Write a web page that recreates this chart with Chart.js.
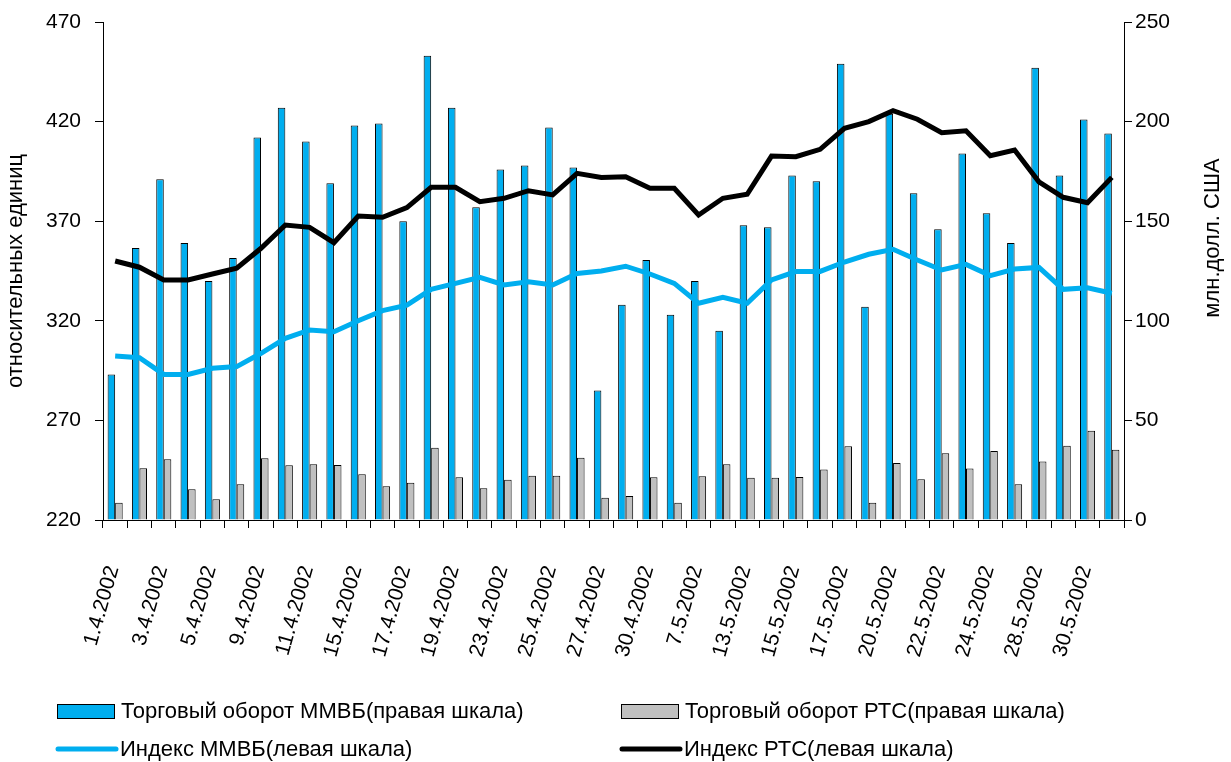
<!DOCTYPE html>
<html>
<head>
<meta charset="utf-8">
<script src="https://cdn.jsdelivr.net/npm/chart.js@4"></script>
<style>
html, body { margin: 0; padding: 0; background: #fff; }
</style>
</head>
<body>
<canvas id="chart" width="1231" height="762"></canvas>
<script>
/* trading days, April - May 2002 */
const dates = [
    "1.4.2002", "2.4.2002", "3.4.2002", "4.4.2002", "5.4.2002", "8.4.2002",
    "9.4.2002", "10.4.2002", "11.4.2002", "12.4.2002", "15.4.2002", "16.4.2002",
    "17.4.2002", "18.4.2002", "19.4.2002", "22.4.2002", "23.4.2002", "24.4.2002",
    "25.4.2002", "26.4.2002", "27.4.2002", "29.4.2002", "30.4.2002", "6.5.2002",
    "7.5.2002", "8.5.2002", "13.5.2002", "14.5.2002", "15.5.2002", "16.5.2002",
    "17.5.2002", "18.5.2002", "20.5.2002", "21.5.2002", "22.5.2002", "23.5.2002",
    "24.5.2002", "27.5.2002", "28.5.2002", "29.5.2002", "30.5.2002", "31.5.2002"
];
// turnover, mln USD (right axis)
const micexTurnover = [
    73, 136.5, 171, 139, 120, 131.5, 192, 207, 190, 169, 198, 199,
    150, 233, 207, 157, 176, 178, 197, 177, 65, 108, 130.5, 103,
    120, 95, 148, 147, 173, 170, 229, 107, 204, 164, 146, 184,
    154, 139, 227, 173, 201, 194
];
const rtsTurnover = [
    8.7, 26, 30.5, 15.4, 10.4, 18, 31, 27.5, 28, 27.6, 23, 17,
    18.7, 36.3, 21.4, 16, 20.2, 22.2, 22.2, 31.3, 11.2, 12, 21.4, 8.7,
    22, 28, 21.2, 21.2, 21.6, 25.4, 37, 8.7, 28.6, 20.4, 33.5, 25.8,
    34.6, 18, 29.4, 37.3, 44.8, 35.3
];
// indices (left axis)
const micexIndex = [
    302.3, 301.5, 293.1, 293.1, 296.2, 297, 303.7, 311.2, 315.4, 314.5, 320, 325.1,
    327.9, 335.8, 338.8, 341.8, 338, 339.6, 338, 343.8, 345, 347.4, 343.5, 338.8,
    328.8, 331.8, 328.8, 340.5, 344.7, 344.8, 349.5, 353.4, 355.9, 350.5, 345.5, 348.3,
    342.7, 346, 346.8, 335.8, 336.6, 333.8
];
const rtsIndex = [
    350, 346.9, 340.5, 340.5, 343.5, 346.4, 356.4, 368.1, 366.9, 359.2, 372.6, 372,
    376.8, 387, 387, 379.8, 381.5, 385.3, 383.2, 394, 391.9, 392.3, 386.5, 386.5,
    373.1, 381.5, 383.5, 402.7, 402.4, 406.1, 416.6, 420, 425.5, 421.2, 414.4, 415.4,
    402.9, 405.7, 389.8, 382, 379.3, 392
];
const leftRange = [220, 470];
const rightRange = [0, 250];
const tickStep = 50;
const leftTitle = "относительных единиц";
const rightTitle = "млн.долл. США";

const FONT = '"Liberation Sans", Arial, Helvetica, sans-serif';
const BLUE = "#00AEEF";
const GREY = "#C0C0C0";
Chart.defaults.font.family = FONT;
Chart.defaults.font.size = 21;
Chart.defaults.color = "#000";

// legend at the bottom + right axis title (reads bottom-to-top like Excel)
const extras = {
    id: "extras",
    afterDraw(chart) {
        const c = chart.ctx;
        const ds = chart.data.datasets;
        c.save();
        c.font = "22px " + FONT;
        c.fillStyle = "#000";
        c.textBaseline = "middle";
        c.textAlign = "left";
        const items = [
            { d: ds[2], x: 57, y: 711 },
            { d: ds[3], x: 621, y: 711 },
            { d: ds[1], x: 56, y: 749 },
            { d: ds[0], x: 620, y: 749 }
        ];
        items.forEach(it => {
            if (it.d.type === "line") {
                c.strokeStyle = it.d.borderColor;
                c.lineWidth = 5;
                c.lineCap = "round";
                c.beginPath();
                c.moveTo(it.x + 2, it.y);
                c.lineTo(it.x + 60, it.y);
                c.stroke();
            } else {
                c.fillStyle = it.d.backgroundColor;
                c.fillRect(it.x, it.y - 7, 58, 15);
                c.strokeStyle = "#000";
                c.lineWidth = 1;
                c.strokeRect(it.x + 0.5, it.y - 6.5, 57, 14);
            }
            c.fillStyle = "#000";
            c.fillText(it.d.label, it.x + 64, it.y + 1);
        });
        c.translate(1213, 238);
        c.rotate(-Math.PI / 2);
        c.textAlign = "center";
        c.fillText(rightTitle, 0, 0);
        c.restore();
    }
};

// fixed plot box: 103..1124 x 22..520
function fitY(width) {
    return s => {
        s.width = width;
        s.paddingTop = 10;
        s.paddingBottom = 10;
    };
}

var ctx = document.getElementById("chart").getContext("2d");
var chart = new Chart(ctx, {
    type: "bar",
    data: {
        labels: dates,
        datasets: [
            {
                type: "line",
                label: "Индекс РТС(левая шкала)",
                data: rtsIndex,
                yAxisID: "yL",
                borderColor: "#000",
                borderWidth: 5,
                pointRadius: 0,
                tension: 0
            },
            {
                type: "line",
                label: "Индекс ММВБ(левая шкала)",
                data: micexIndex,
                yAxisID: "yL",
                borderColor: BLUE,
                borderWidth: 5,
                pointRadius: 0,
                tension: 0
            },
            {
                label: "Торговый оборот ММВБ(правая шкала)",
                data: micexTurnover,
                yAxisID: "yR",
                backgroundColor: BLUE,
                borderColor: "#000",
                borderWidth: 1,
                categoryPercentage: 0.62,
                barPercentage: 1
            },
            {
                label: "Торговый оборот РТС(правая шкала)",
                data: rtsTurnover,
                yAxisID: "yR",
                backgroundColor: GREY,
                borderColor: "#000",
                borderWidth: 1,
                categoryPercentage: 0.62,
                barPercentage: 1
            }
        ]
    },
    options: {
        responsive: false,
        animation: false,
        layout: { padding: { top: 22, bottom: 0, left: 0, right: 0 } },
        plugins: {
            legend: { display: false },
            tooltip: { enabled: false }
        },
        scales: {
            x: {
                offset: true,
                grid: { display: true, drawOnChartArea: false, tickLength: 8, color: "#000", offset: true },
                border: { color: "#000" },
                ticks: {
                    autoSkip: false,
                    minRotation: 74,
                    maxRotation: 74,
                    padding: 35,
                    labelOffset: -2,
                    callback: (v, i) => (i % 2 === 0 ? dates[i] : "")
                },
                afterFit: s => { s.height = 242; }
            },
            yL: {
                position: "left",
                min: leftRange[0],
                max: leftRange[1],
                ticks: { stepSize: tickStep, padding: 14 },
                grid: { drawOnChartArea: false, tickLength: 8, color: "#000" },
                border: { color: "#000" },
                title: { display: true, text: leftTitle, font: { size: 22 }, padding: { top: 3, bottom: 0 } },
                afterFit: fitY(103)
            },
            yR: {
                position: "right",
                min: rightRange[0],
                max: rightRange[1],
                ticks: { stepSize: tickStep, padding: 3 },
                grid: { drawOnChartArea: false, tickLength: 8, color: "#000" },
                border: { color: "#000" },
                afterFit: fitY(107)
            }
        }
    },
    plugins: [extras]
});
</script>
</body>
</html>
